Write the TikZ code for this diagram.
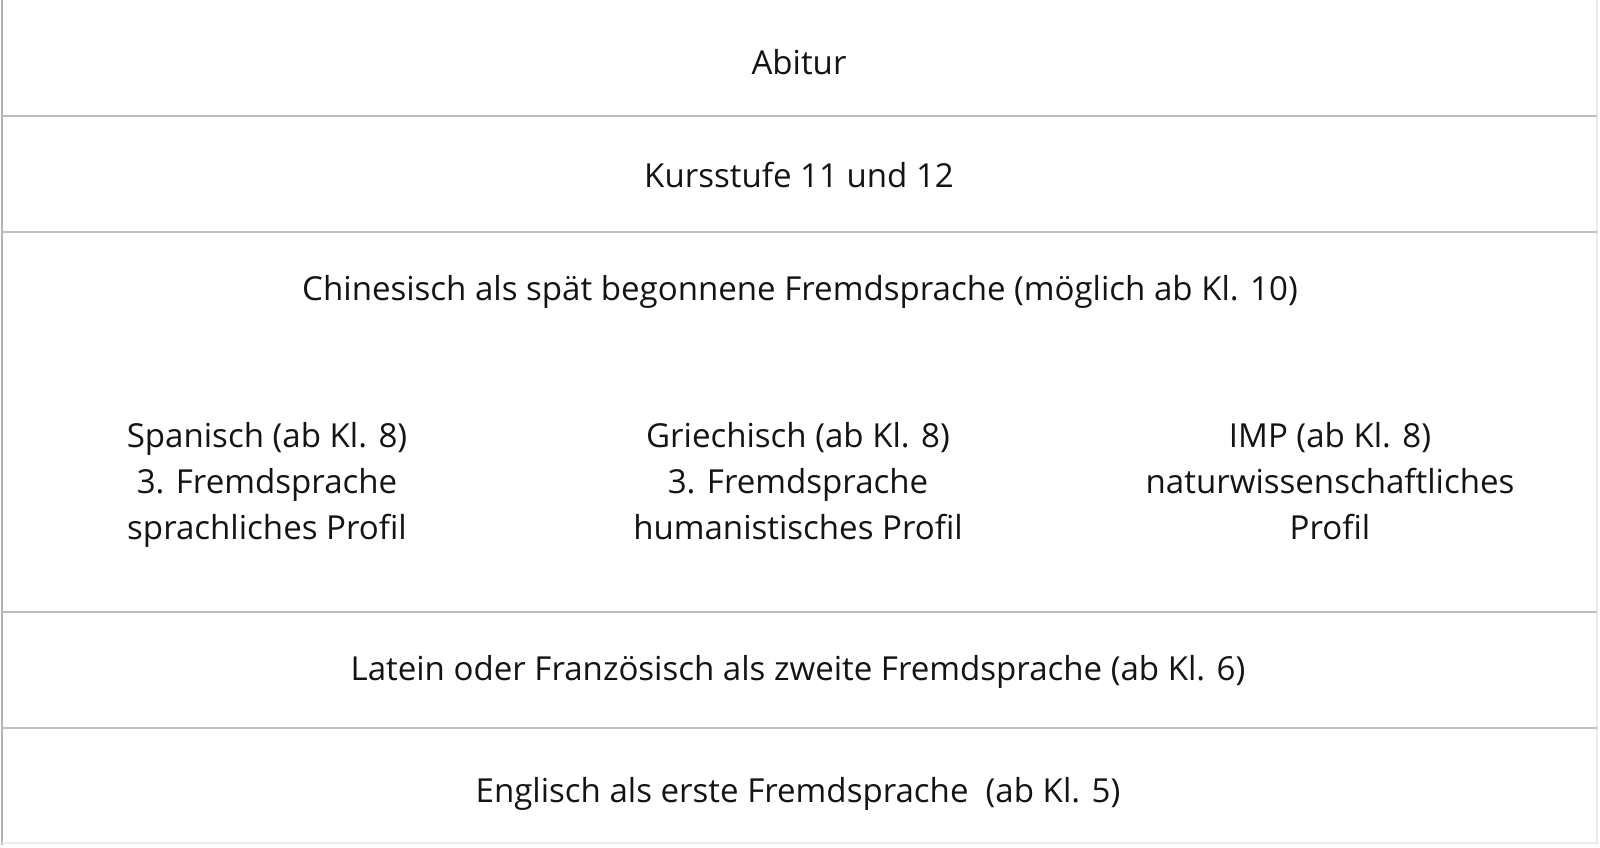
\documentclass[tikz,border=0pt]{standalone}
\usepackage{fontspec}
\setmainfont{Open Sans}
\tikzset{
	rowline/.style={line width=0.02cm, color=black!25},
	edgeline/.style={line width=0.02cm, color=black!8},
	rowtext/.style={anchor=base, inner sep=0pt, text=black!92, font=\fontsize{9.4pt}{13pt}\selectfont},
	coltext/.style={rowtext, align=center},
}
\begin{document}
\begin{tikzpicture}[x=0.01cm, y=-0.01cm]
			%%%%% START %%%%%
			\useasboundingbox (0, 0) rectangle (1600, 847);
			
			\draw[line width=0.02cm, color=black!30] (2, 0) -- (2, 845);
			\draw[edgeline] (1597, 0) -- (1597, 845);
			\draw[edgeline] (2, 843) -- (1597, 843);
			
			\draw[rowline] (2, 116) -- (1597, 116);
			\draw[rowline] (2, 232) -- (1597, 232);
			\draw[rowline] (2, 612) -- (1597, 612);
			\draw[rowline] (2, 728) -- (1597, 728);
			
			\node[rowtext] (abitur) at (799, 74) {Abitur};
			\node[rowtext] (kursstufe) at (799, 187) {Kursstufe 11 und 12};
			\node[rowtext] (chinesisch) at (800, 300) {Chinesisch als spät begonnene Fremdsprache (möglich ab Kl. 10)};
			
			% base of a multi-line node sits on its last line
			\node[coltext] (spanisch) at (267, 539) {Spanisch (ab Kl. 8)\\3. Fremdsprache\\sprachliches Profil};
			\node[coltext] (griechisch) at (798, 539) {Griechisch (ab Kl. 8)\\3. Fremdsprache\\humanistisches Profil};
			\node[coltext] (imp) at (1330, 539) {IMP (ab Kl. 8)\\naturwissenschaftliches\\Profil};
			
			\node[rowtext] (latein) at (798, 680) {Latein oder Französisch als zweite Fremdsprache (ab Kl. 6)};
			\node[rowtext] (englisch) at (798, 802) {Englisch als erste Fremdsprache~~(ab Kl. 5)};
			%%%%% END %%%%%
		\end{tikzpicture}
\end{document}
